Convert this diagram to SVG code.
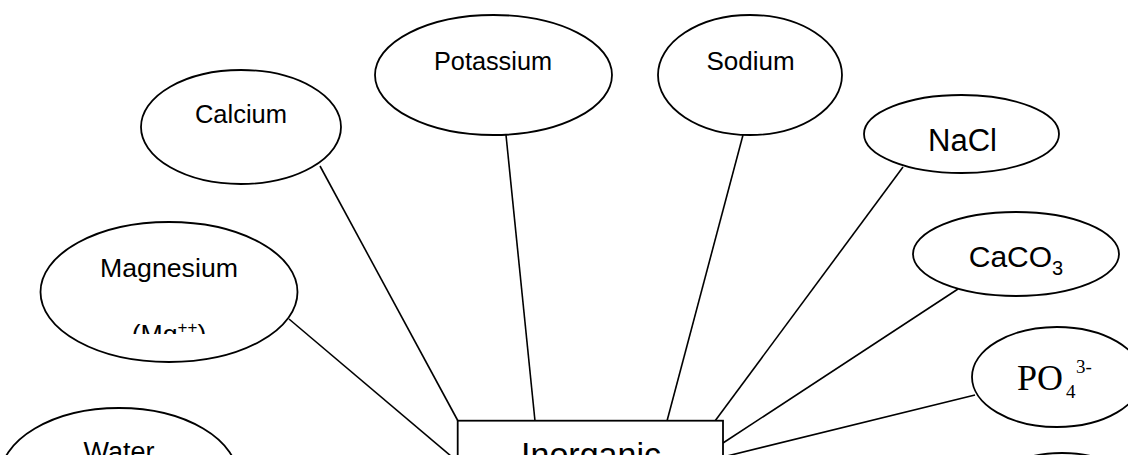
<svg xmlns="http://www.w3.org/2000/svg" width="1128" height="455" viewBox="0 0 1128 455">
<defs>
<style>
.n{fill:#fff;stroke:#000;stroke-width:1.8}
.t{font-family:"Liberation Sans",Arial,sans-serif;fill:#000;text-anchor:middle}
.s{font-family:"Liberation Serif","Times New Roman",serif;fill:#000}
.c line{stroke:#000;stroke-width:1.6}
</style>
<clipPath id="mgclip"><rect x="0" y="0" width="400" height="334"/></clipPath>
</defs>
<rect width="1128" height="455" fill="#fff"/>
<g class="c" id="connectors">
<line x1="320" y1="166" x2="458" y2="421"/>
<line x1="506" y1="135" x2="535" y2="421"/>
<line x1="743" y1="135" x2="667" y2="421"/>
<line x1="903" y1="167" x2="715" y2="421"/>
<line x1="958" y1="289" x2="723" y2="443"/>
<line x1="975" y1="395" x2="723" y2="457"/>
<line x1="289" y1="319" x2="458" y2="462"/>
</g>
<g id="calcium"><ellipse class="n" cx="241" cy="127" rx="100" ry="57"/><text class="t" x="241" y="123" font-size="25.5">Calcium</text></g>
<g id="potassium"><ellipse class="n" cx="493.5" cy="75" rx="118.5" ry="60"/><text class="t" x="493" y="70" font-size="25.3">Potassium</text></g>
<g id="sodium"><ellipse class="n" cx="750" cy="75" rx="92" ry="60"/><text class="t" x="750.5" y="70" font-size="26">Sodium</text></g>
<g id="nacl"><ellipse class="n" cx="961.5" cy="134" rx="97.5" ry="39"/><text class="t" x="962.5" y="151" font-size="31">NaCl</text></g>
<g id="caco3"><ellipse class="n" cx="1016" cy="254" rx="103" ry="42"/><text class="t" x="1016" y="267" font-size="30">CaCO<tspan font-size="20" dy="8">3</tspan></text></g>
<g id="po4"><ellipse class="n" cx="1057" cy="377" rx="85" ry="50"/><text class="s" x="1017" y="390" font-size="36">PO</text><text class="s" x="1066" y="398" font-size="19">4</text><text class="s" x="1076" y="373" font-size="19">3-</text></g>
<g id="magnesium"><ellipse class="n" cx="169" cy="292" rx="128.5" ry="70"/><text class="t" x="169" y="277" font-size="26.7">Magnesium</text><text class="t" x="169" y="343" font-size="26.7" clip-path="url(#mgclip)">(Mg<tspan font-size="17" dy="-10">++</tspan><tspan dy="10">)</tspan></text></g>
<g id="water"><ellipse class="n" cx="119" cy="478" rx="119" ry="70"/><text class="t" x="119" y="461" font-size="27">Water</text></g>
<g id="extra"><ellipse class="n" cx="1062" cy="500" rx="80" ry="47"/></g>
<g id="inorganic"><rect class="n" x="457.7" y="420.7" width="265.3" height="80"/><text class="t" x="591" y="466" font-size="34">Inorganic</text></g>
</svg>
